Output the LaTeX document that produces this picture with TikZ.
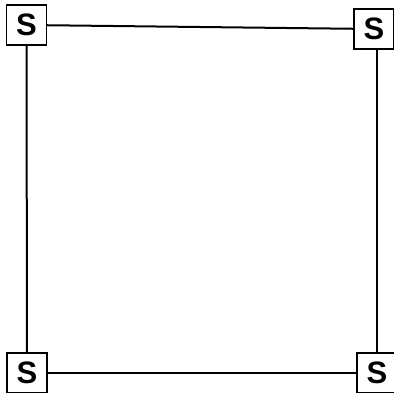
\documentclass[tikz,border=0pt]{standalone}
\usepackage{fontspec}
\setmainfont{Liberation Sans}

\tikzset{
  sbox/.style={draw, line width=1.2pt, fill=white, minimum size=40pt, inner sep=0pt, font=\fontsize{31}{31}\selectfont\bfseries},
  wire/.style={line width=2pt}
}

\begin{document}
\begin{tikzpicture}[x=1pt, y=-1pt]
  \useasboundingbox (0,0) rectangle (394,392);
  % the four boxes
  \node[sbox] (tl) at (26.5,25) {S};
  \node[sbox] (tr) at (374,29) {S};
  \node[sbox] (bl) at (27,373) {S};
  \node[sbox] (br) at (377,373) {S};
  % the square
  \draw[wire] (tl) -- (tr);
  \draw[wire] ([xshift=3pt]tr.south) -- (br);
  \draw[wire] (br) -- (bl);
  \draw[wire] (bl) -- (tl);
\end{tikzpicture}
\end{document}
